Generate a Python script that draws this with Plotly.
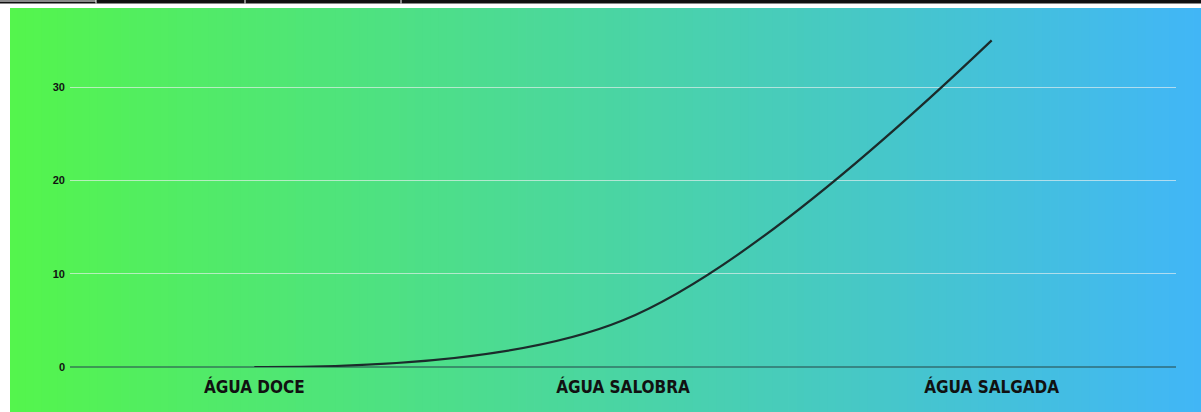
import plotly.graph_objects as go

categories = ["ÁGUA DOCE", "ÁGUA SALOBRA", "ÁGUA SALGADA"]
values = [0, 5, 35]
y_ticks = [0, 10, 20, 30]

W, H = 1201, 412
ML, MR, MT, MB = 70, 25, 10, 45
PW, PH = W - ML - MR, H - MT - MB
px_per_unit = (367 - 87) / 30.0
ymax = PH / px_per_unit

def fx(px):
    return (px - ML) / PW

def fy(py):
    return (H - MB - py) / PH

shapes = []
# gradient background
c0 = (84, 245, 76)
c1 = (65, 182, 247)
x_start, x_end = 10, W
n = 150
step = (x_end - x_start) / n
for i in range(n):
    t = (i + 0.5) / n
    c = tuple(int(round(c0[k] + (c1[k] - c0[k]) * t)) for k in range(3))
    shapes.append(dict(type="rect", xref="paper", yref="paper",
                       x0=fx(x_start + i * step), x1=fx(x_start + (i + 1) * step + 0.8),
                       y0=fy(H), y1=fy(8), fillcolor="rgb(%d,%d,%d)" % c,
                       line=dict(width=0), layer="below"))
# top table border
shapes.append(dict(type="rect", xref="paper", yref="paper",
                   x0=fx(0), x1=fx(W), y0=fy(3.5), y1=fy(0),
                   fillcolor="#111111", line=dict(width=0), layer="above"))
shapes.append(dict(type="rect", xref="paper", yref="paper",
                   x0=fx(0), x1=fx(96), y0=fy(2), y1=fy(0),
                   fillcolor="#8a8a8a", line=dict(width=0), layer="above"))
for xd in [96, 245, 401]:
    shapes.append(dict(type="line", xref="paper", yref="paper",
                       x0=fx(xd), x1=fx(xd), y0=fy(3.5), y1=fy(0),
                       line=dict(color="#ffffff", width=1), layer="above"))

fig = go.Figure()
fig.add_trace(go.Scatter(
    x=categories, y=values, mode="lines",
    line=dict(color="#1b2b2b", width=2.2, shape="spline", smoothing=1.0),
    cliponaxis=False, hoverinfo="skip", showlegend=False))

fig.update_layout(
    width=W, height=H,
    margin=dict(l=ML, r=MR, t=MT, b=MB, pad=0, autoexpand=False),
    paper_bgcolor="white",
    plot_bgcolor="rgba(0,0,0,0)",
    shapes=shapes,
    showlegend=False,
    xaxis=dict(type="category", range=[-0.5, 2.5], showgrid=False, zeroline=False, showline=False,
               ticks="", automargin=False,
               tickfont=dict(family="DejaVu Sans Condensed, DejaVu Sans", size=17, color="#111111", weight="bold"),
               ticklabelstandoff=8),
    yaxis=dict(range=[0, ymax], tickvals=y_ticks, ticktext=[str(v) for v in y_ticks],
               showgrid=True, gridcolor="rgba(235,240,240,0.65)", gridwidth=1,
               zeroline=True, zerolinecolor="rgba(40,80,80,0.55)", zerolinewidth=2,
               showline=False, ticks="", automargin=False,
               tickfont=dict(family="Liberation Sans, Arial", size=11, color="#111111", weight="bold"),
               ticklabelstandoff=4),
)

fig.write_html("out.html")
